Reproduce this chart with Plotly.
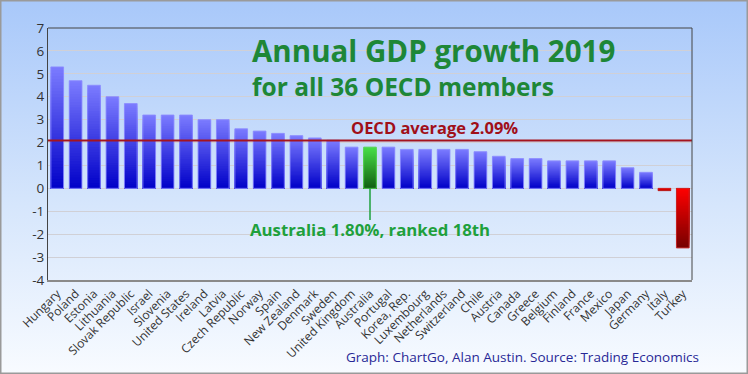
import base64
import plotly.graph_objects as go

countries = ["Hungary", "Poland", "Estonia", "Lithuania", "Slovak Republic", "Israel",
             "Slovenia", "United States", "Ireland", "Latvia", "Czech Republic", "Norway",
             "Spain", "New Zealand", "Denmark", "Sweden", "United Kingdom", "Australia",
             "Portugal", "Korea, Rep.", "Luxembourg", "Netherlands", "Switzerland", "Chile",
             "Austria", "Canada", "Greece", "Belgium", "Finland", "France", "Mexico",
             "Japan", "Germany", "Italy", "Turkey"]
growth = [5.3, 4.7, 4.5, 4.0, 3.7, 3.2,
          3.2, 3.2, 3.0, 3.0, 2.6, 2.5,
          2.4, 2.3, 2.2, 2.1, 1.8, 1.8,
          1.8, 1.7, 1.7, 1.7, 1.7, 1.6,
          1.4, 1.3, 1.3, 1.2, 1.2, 1.2, 1.2,
          0.9, 0.7, -0.1, -2.6]
oecd_average = 2.09
highlight = "Australia"
y_ticks = list(range(-4, 8))

# colours (gradient ends: at zero line -> at bar end)
BLUE = ((0, 0, 200), (124, 124, 255))
GREEN = ((18, 95, 20), (72, 224, 72))
RED = ((255, 0, 0), (118, 0, 0))


def lerp(c0, c1, t):
    return "rgb(%d,%d,%d)" % tuple(round(a + (b - a) * t) for a, b in zip(c0, c1))


def scheme(name, v):
    if name == highlight:
        return GREEN
    if v < 0:
        return RED
    return BLUE


fig = go.Figure()

# gradient bars: full bar first, then progressively shorter bars on top
N = 40
for k in range(N):
    frac = (N - k) / N
    t = (N - k - 0.5) / N
    heights = [v * frac for v in growth]
    cols = [lerp(*scheme(c, v), t) for c, v in zip(countries, growth)]
    fig.add_trace(go.Bar(x=countries, y=heights,
                         marker=dict(color=cols, line=dict(width=0)),
                         showlegend=False, hoverinfo="skip"))

edge_cols = []
for c, v in zip(countries, growth):
    if c == highlight:
        edge_cols.append("rgba(90,210,90,0.9)")
    elif v < 0:
        edge_cols.append("rgba(200,40,40,0.9)")
    else:
        edge_cols.append("rgba(140,140,255,0.9)")
fig.add_trace(go.Bar(x=countries, y=growth,
                     marker=dict(color="rgba(0,0,0,0)", line=dict(color=edge_cols, width=1)),
                     showlegend=False, hovertemplate="%{x}: %{y}%<extra></extra>"))

# background gradient as an svg image
svg = ('<svg xmlns="http://www.w3.org/2000/svg" width="748" height="374" viewBox="0 0 748 374" '
       'preserveAspectRatio="none"><defs><linearGradient id="g" x1="0" y1="0" x2="0" y2="1">'
       '<stop offset="0" stop-color="#a8c8fa"/><stop offset="0.55" stop-color="#d6e6fc"/>'
       '<stop offset="1" stop-color="#f8fbff"/></linearGradient></defs>'
       '<rect width="748" height="374" fill="url(#g)"/></svg>')
src = "data:image/svg+xml;base64," + base64.b64encode(svg.encode()).decode()

W, H = 748, 374
ML, MR, MT, MB = 48, 56, 28, 94
pw, ph = W - ML - MR, H - MT - MB
px0, px1 = -ML / pw, (W - ML) / pw
py1, py0 = (H - MB) / ph, -(MB) / ph


def ppx(x):
    return (x - ML) / pw


def ppy(y):
    return (H - MB - y) / ph


fig.add_layout_image(dict(source=src, xref="paper", yref="paper", x=px0, y=py1,
                          sizex=px1 - px0, sizey=py1 - py0, xanchor="left", yanchor="top",
                          sizing="stretch", layer="below"))

shapes = [
    dict(type="line", xref="paper", yref="y", x0=0, x1=1, y0=oecd_average, y1=oecd_average,
         line=dict(color="rgb(165,20,30)", width=2)),
    dict(type="line", xref="x", yref="y", x0=highlight, x1=highlight, y0=0, y1=-1.38,
         line=dict(color="rgb(30,160,60)", width=1.5)),
    dict(type="line", xref="paper", yref="paper", x0=0, x1=1, y0=1, y1=1,
         line=dict(color="#444", width=1)),
    dict(type="line", xref="paper", yref="paper", x0=1, x1=1, y0=0, y1=1,
         line=dict(color="#444", width=1)),
    dict(type="rect", xref="paper", yref="paper", x0=px0, x1=px1, y0=py0, y1=py1,
         line=dict(color="#9a9a9a", width=3)),
]

annotations = [
    dict(text="<b>Annual GDP growth 2019</b>", xref="paper", yref="paper",
         x=ppx(250), y=ppy(50), xanchor="left", yanchor="middle", showarrow=False,
         font=dict(size=29.5, color="rgb(30,135,55)", family="Open Sans")),
    dict(text="<b>for all 36 OECD members</b>", xref="paper", yref="paper",
         x=ppx(250), y=ppy(86), xanchor="left", yanchor="middle", showarrow=False,
         font=dict(size=24.5, color="rgb(30,135,55)", family="Open Sans")),
    dict(text="<b>OECD average 2.09%</b>", xref="paper", yref="paper",
         x=ppx(519.5), y=ppy(127), yanchor="middle", showarrow=False,
         font=dict(size=16.5, color="rgb(160,15,25)", family="Open Sans")),
    dict(text="<b>Australia 1.80%, ranked 18th</b>", xref="paper", yref="paper",
         x=ppx(370), y=ppy(229), yanchor="middle", showarrow=False,
         font=dict(size=16.8, color="rgb(30,160,60)", family="Open Sans")),
    dict(text="Graph: ChartGo, Alan Austin. Source: Trading Economics", xref="paper",
         yref="paper", x=ppx(701), y=ppy(357), xanchor="right", yanchor="middle",
         showarrow=False, font=dict(size=13.5, color="rgb(40,40,150)", family="Open Sans")),
]

fig.update_layout(
    width=W, height=H,
    margin=dict(l=ML, r=MR, t=MT, b=MB),
    paper_bgcolor="white", plot_bgcolor="rgba(0,0,0,0)",
    barmode="overlay", bargap=0.31,
    shapes=shapes, annotations=annotations,
    font=dict(family="Open Sans", color="#333"),
    xaxis=dict(type="category", tickangle=-45, tickfont=dict(size=12, color="#333"),
               showgrid=False, showline=True, linecolor="#8a8a8a", linewidth=2,
               ticks="", automargin=False),
    yaxis=dict(range=[-4, 7], tickvals=y_ticks, ticktext=[str(t) for t in y_ticks],
               tickfont=dict(size=13.5, color="#333"), showgrid=True,
               gridcolor="rgb(208,208,214)", gridwidth=1, zeroline=False,
               showline=True, linecolor="#444", linewidth=1, ticks="", automargin=False),
)

fig.write_html("out.html", config={"displayModeBar": False},
               post_script="document.body.style.margin='0';")
